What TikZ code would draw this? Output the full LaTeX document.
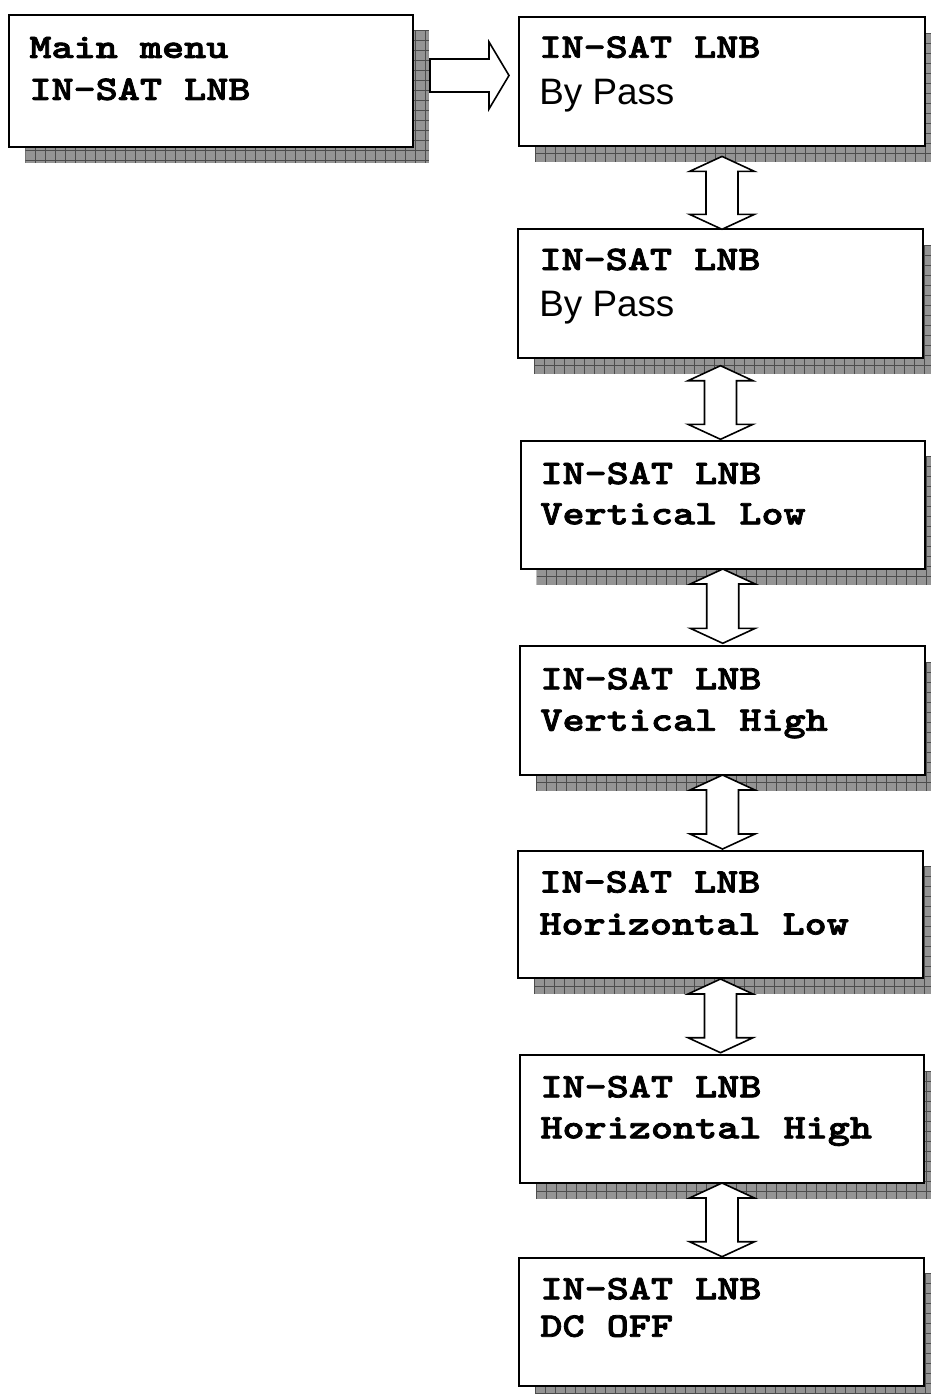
\documentclass[tikz,border=0pt]{standalone}
\usepackage{fontspec}
\usetikzlibrary{calc}
\newfontfamily\monof{lmmonolt10-bold.otf}[FakeStretch=1.224,FakeBold=2.2]
\newfontfamily\arialf{Liberation Sans}
\newcommand\mkbox[5]{%
  \begin{scope}
    \clip ({#2+16},{#3+16}) rectangle ({#4+16},{#5+16});
    \fill[shfill] ({#2+16},{#3+16}) rectangle ({#4+16},{#5+16});
    \foreach \gx in {0,10,...,420} \draw[shgrid] ({#2+16+\gx},{#3+16}) -- ({#2+16+\gx},{#5+16});
    \foreach \gy in {0,10,...,150} \draw[shgrid] ({#2+16},{#3+16+\gy}) -- ({#4+16},{#3+16+\gy});
  \end{scope}
  \node[box, minimum width={(#4-#2)*0.5pt}, minimum height={(#5-#3)*0.5pt}] (#1) at ({(#2+#4)/2},{(#3+#5)/2}) {};
}
\newcommand\dblarrow[4]{%
  \path[arr] let \p1=(#1.south), \p2=(#2.north) in
    ({\x1},{\y1-#3*0.5pt})
    -- ({\x1+16.25pt},{\y1-#3*0.5pt-7.5pt})
    -- ({\x1+8pt},{\y1-#3*0.5pt-7.5pt})
    -- ({\x1+8pt},{\y2+#4*0.5pt+7.5pt})
    -- ({\x1+16.25pt},{\y2+#4*0.5pt+7.5pt})
    -- ({\x1},{\y2+#4*0.5pt})
    -- ({\x1-16.25pt},{\y2+#4*0.5pt+7.5pt})
    -- ({\x1-8pt},{\y2+#4*0.5pt+7.5pt})
    -- ({\x1-8pt},{\y1-#3*0.5pt-7.5pt})
    -- ({\x1-16.25pt},{\y1-#3*0.5pt-7.5pt})
    -- cycle;
}
\tikzset{
  box/.style={draw, line width=1pt, fill=white, inner sep=0pt, outer sep=0pt},
  shfill/.style={fill=black!42},
  shgrid/.style={draw=black!70, line width=0.5pt},
  arr/.style={draw, fill=white, line width=0.8pt, line join=miter},
  mono/.style={anchor=base west, inner sep=0pt, font=\monof\fontsize{17.2pt}{22pt}\selectfont},
  sans/.style={anchor=base west, inner sep=0pt, font=\arialf\fontsize{18.4pt}{22pt}\selectfont}
}
\begin{document}
\begin{tikzpicture}[x=0.5pt,y=-0.5pt]
\fill[white] (0,0) rectangle (931,1394);
\useasboundingbox (0,0) rectangle (931,1394);

\mkbox{main}{9.3}{14.5}{413}{147.4}
\mkbox{b1}{519}{17.3}{925}{145.7}
\mkbox{b2}{518}{229.3}{923}{357.7}
\mkbox{b3}{520.5}{440.7}{925}{569}
\mkbox{b4}{520}{646}{925}{775}
\mkbox{b5}{518}{850.7}{923}{978.3}
\mkbox{b6}{520}{1055}{924}{1183}
\mkbox{b7}{519}{1257.7}{924}{1386}

\node[mono] (tm1) at (29,57.9) {Main menu};
\node[mono] (tm2) at (29,99.9) {IN-SAT LNB};
\node[mono] (t11) at (539,57.7) {IN-SAT LNB};
\node[sans] (t12) at (539,104) {By Pass};
\node[mono] (t21) at (539,270) {IN-SAT LNB};
\node[sans] (t22) at (539,316.7) {By Pass};
\node[mono] (t31) at (540,484) {IN-SAT LNB};
\node[mono] (t32) at (540,524.3) {Vertical Low};
\node[mono] (t41) at (540,689.3) {IN-SAT LNB};
\node[mono] (t42) at (540,730.7) {Vertical High};
\node[mono] (t51) at (539,892.5) {IN-SAT LNB};
\node[mono] (t52) at (539,934.5) {Horizontal Low};
\node[mono] (t61) at (540,1097.3) {IN-SAT LNB};
\node[mono] (t62) at (540,1138.3) {Horizontal High};
\node[mono] (t71) at (540,1299.3) {IN-SAT LNB};
\node[mono] (t72) at (540,1336.7) {DC OFF};

\path[arr] let \p1=(main.east), \p2=(b1.west) in
  ({\x1+8.5pt},{\y1+11pt})
  -- ({\x2-15pt},{\y1+11pt})
  -- ({\x2-15pt},{\y1+19.5pt})
  -- ({\x2-5pt},{\y1+2.75pt})
  -- ({\x2-15pt},{\y1-14pt})
  -- ({\x2-15pt},{\y1-5.5pt})
  -- ({\x1+8.5pt},{\y1-5.5pt})
  -- cycle;

\dblarrow{b1}{b2}{10.7}{0}
\dblarrow{b2}{b3}{8}{1.4}
\dblarrow{b3}{b4}{0}{2.7}
\dblarrow{b4}{b5}{0}{1.7}
\dblarrow{b5}{b6}{0.7}{2.3}
\dblarrow{b6}{b7}{0}{1}
\end{tikzpicture}
\end{document}
